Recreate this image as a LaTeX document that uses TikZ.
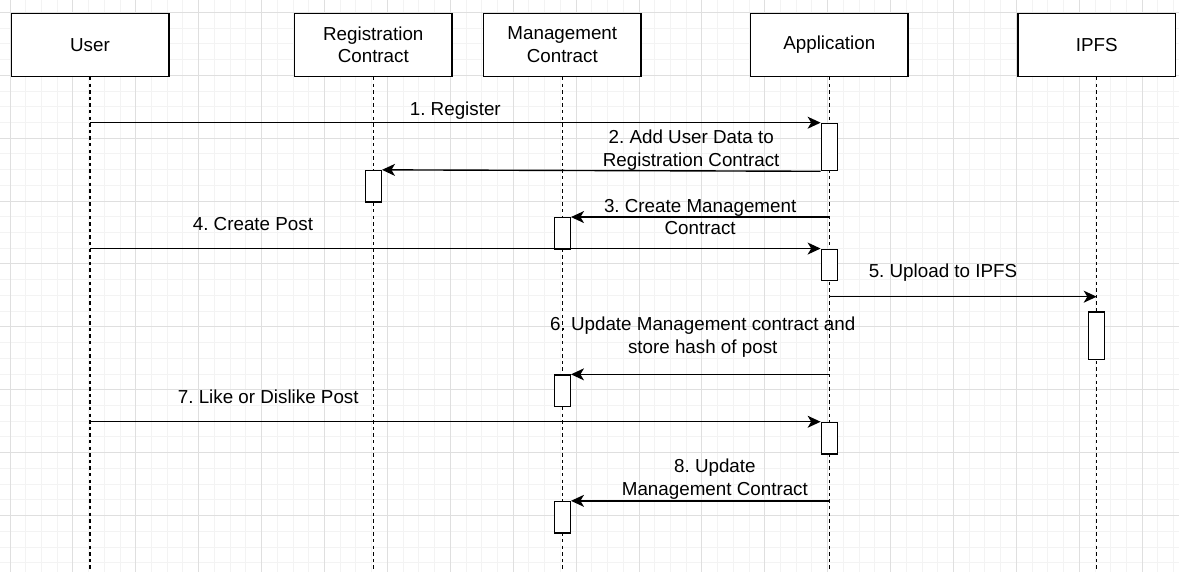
\documentclass[tikz,border=0pt]{standalone}
\usepackage{fontspec}
\setmainfont{Liberation Sans}
\usepackage{tikz}
\usetikzlibrary{arrows.meta,positioning}
\definecolor{gridmajor}{RGB}{223,223,223}
\definecolor{gridminor}{RGB}{243,243,243}
\frenchspacing

\tikzset{
	headbox/.style={draw, line width=0.75pt, fill=white, minimum width=78.75pt, minimum height=31.5pt, align=center, inner sep=2pt},
	lifeline/.style={line width=0.75pt, dash pattern=on 1.7pt off 1.6pt},
	actbox/.style={draw, line width=0.7pt, fill=white, minimum width=8pt, minimum height=15.75pt, inner sep=0pt},
	tallact/.style={actbox, minimum height=23.6pt},
	msg/.style={->, line width=0.7pt},
	lbl/.style={align=center, inner sep=0pt},
}

% header box of a participant and its dashed line down to the floor
\newcommand{\participant}[3]
{
	\node[headbox] (#1) at (#2,44.8) {#3};
	\draw[lifeline] (#1.south) -- (#1.south |- floor);
}

\begin{document}
\begin{tikzpicture}[x=0.5pt,y=-0.5pt,>={Stealth[length=6.5pt,width=6pt,inset=1.8pt]},
	every node/.style={font=\fontsize{9.4}{11.3}\selectfont}]
\useasboundingbox (0,0) rectangle (1179,572);
\fill[white] (0,0) rectangle (1179,572);

% background grid
\foreach \k in {0,...,74} \draw[gridminor, line width=0.5pt] ({10+15.725*\k},0) -- ++(0,572);
\foreach \k in {0,...,35} \draw[gridminor, line width=0.5pt] (0,{12.4+15.725*\k}) -- ++(1179,0);
\foreach \k in {0,...,18} \draw[gridmajor, line width=0.5pt] ({10+62.9*\k},0) -- ++(0,572);
\foreach \k in {0,...,8} \draw[gridmajor, line width=0.5pt] (0,{12.4+62.9*\k}) -- ++(1179,0);

\coordinate (floor) at (0,572);
\participant{user}{90}{User}
\participant{reg}{373.3}{Registration\\Contract}
\participant{mgmt}{562.3}{Management\\Contract}
\participant{app}{829.3}{Application}
\participant{ipfs}{1096.7}{IPFS}

% activations
\node[tallact] (app1)  at (829.3,147)   {};
\node[actbox]  (reg1)  at (373.3,186.3) {};
\node[actbox]  (mgmt1) at (562.3,233.5) {};
\node[actbox]  (app2)  at (829.3,265)   {};
\node[tallact] (ipfs1) at (1096.7,335.7) {};
\node[actbox]  (mgmt2) at (562.3,390.8) {};
\node[actbox]  (app3)  at (829.3,438.2) {};
\node[actbox]  (mgmt3) at (562.3,517.3) {};

% messages
\draw[msg] (user |- app1.north west) -- node[lbl, yshift=6pt] (m1) {1. Register} (app1.north west);
\draw[msg] (app1.south west) -- node[lbl, pos=0.295, yshift=10.5pt] (m2) {2. Add User Data to\\Registration Contract} (reg1.north east);
\draw[msg] (app |- mgmt1.north east) -- node[lbl, pos=0.5] (m3) {3. Create Management\\Contract} (mgmt1.north east);
\draw[msg] (user |- app2.north west) -- node[lbl, pos=0.223, yshift=12.5pt] (m4) {4. Create Post} (app2.north west);
\coordinate (upl) at (829.3,296.7);
\draw[msg] (upl) -- node[lbl, pos=0.425, yshift=12pt] (m5) {5. Upload to IPFS} (ipfs |- upl);
\draw[msg] (app |- mgmt2.north east) -- node[lbl, pos=0.49, yshift=18.5pt] (m6) {6. Update Management contract and\\store hash of post} (mgmt2.north east);
\draw[msg] (user |- app3.north west) -- node[lbl, pos=0.244, yshift=12.5pt] (m7) {7. Like or Dislike Post} (app3.north west);
\draw[msg] (app |- mgmt3.north east) -- node[lbl, pos=0.443, yshift=11pt] (m8) {8. Update\\Management Contract} (mgmt3.north east);
\end{tikzpicture}
\end{document}
